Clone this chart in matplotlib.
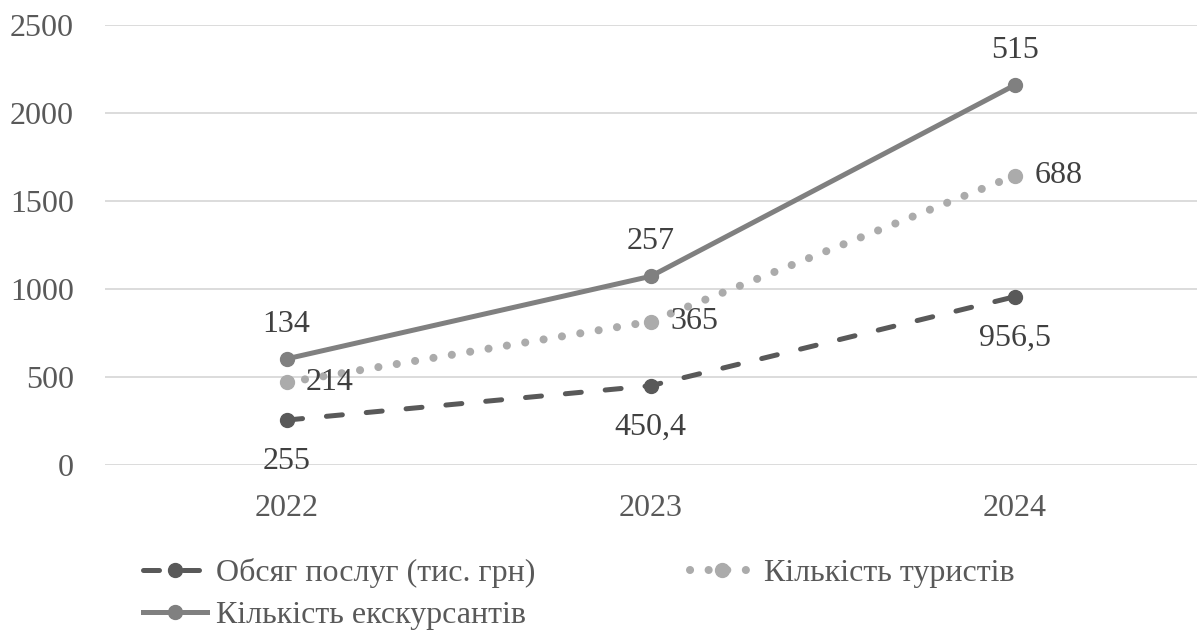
import matplotlib.pyplot as plt

years = ["2022", "2023", "2024"]
obsyah = [255, 450.4, 956.5]
turysty = [214, 365, 688]
ekskursanty = [134, 257, 515]

labels_obsyah = ["255", "450,4", "956,5"]
labels_turysty = ["214", "365", "688"]
labels_ekskursanty = ["134", "257", "515"]


def main():
    plt.rcParams["font.family"] = ["Liberation Serif", "DejaVu Serif"]
    fig = plt.figure(figsize=(12.03, 6.3), dpi=100)
    ax = fig.add_axes([0.0869, 0.262, 0.908, 0.698])

    x = list(range(len(years)))
    # stacked lines, like Excel's "stacked line" chart
    s1 = obsyah
    s2 = [a + b for a, b in zip(s1, turysty)]
    s3 = [a + b for a, b in zip(s2, ekskursanty)]

    l1, = ax.plot(x, s1, color="#595959", lw=3.6, ls=(0, (3.2, 4.8)),
                  dash_capstyle="round", marker="o", ms=10,
                  label="Обсяг послуг (тис. грн)", zorder=3)
    l2, = ax.plot(x, s2, color="#ABABAB", lw=5.8, ls=(0, (0.01, 2.3)),
                  dash_capstyle="round", marker="o", ms=10,
                  label="Кількість туристів", zorder=3)
    l3, = ax.plot(x, s3, color="#808080", lw=3.6, marker="o", ms=10,
                  label="Кількість екскурсантів", zorder=3)

    fs = 23
    for xi, yi, t in zip(x, s1, labels_obsyah):
        ax.annotate(t, (xi, yi), xytext=(0, -30), textcoords="offset points",
                    ha="center", va="center", fontsize=fs, color="#404040")
    for xi, yi, t in zip(x, s2, labels_turysty):
        ax.annotate(t, (xi, yi), xytext=(14, 0), textcoords="offset points",
                    ha="left", va="center", fontsize=fs, color="#404040")
    for xi, yi, t in zip(x, s3, labels_ekskursanty):
        ax.annotate(t, (xi, yi), xytext=(0, 25), textcoords="offset points",
                    ha="center", va="center", fontsize=fs, color="#404040")

    ax.set_xlim(-0.5, 2.5)
    ax.set_ylim(0, 2500)
    ax.set_yticks(range(0, 2501, 500))
    ax.set_xticks(x)
    ax.set_xticklabels(years)
    ax.tick_params(axis="both", length=0, labelsize=fs, labelcolor="#595959")
    ax.tick_params(axis="x", pad=21)
    ax.tick_params(axis="y", pad=22)
    ax.grid(axis="y", color="#D9D9D9", lw=1.3)
    ax.set_axisbelow(True)
    for sp in ax.spines.values():
        sp.set_visible(False)

    leg = fig.legend(handles=[l1, l3, l2], loc="upper left",
                     bbox_to_anchor=(0.108, 0.135), ncol=2, frameon=False,
                     fontsize=fs, handlelength=2.0, handletextpad=0.3,
                     columnspacing=4.85, labelspacing=0.41, borderaxespad=0)
    for t in leg.get_texts():
        t.set_color("#595959")

    fig.savefig("out.png", dpi=100)


if __name__ == "__main__":
    main()
